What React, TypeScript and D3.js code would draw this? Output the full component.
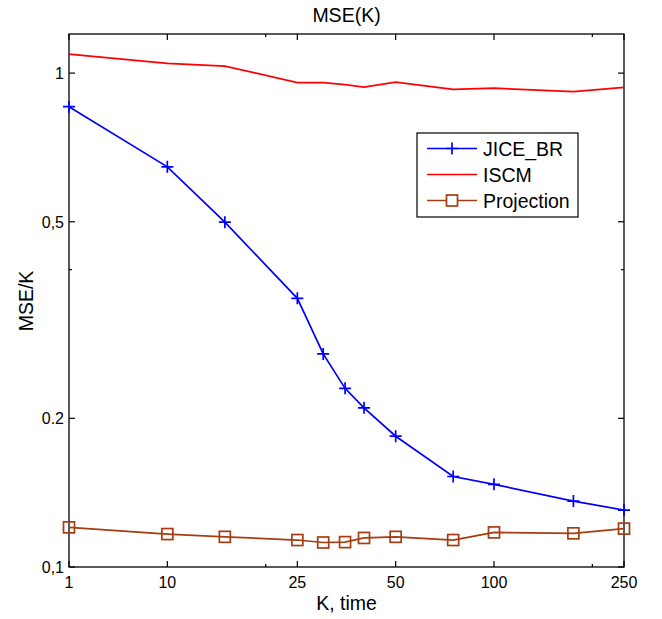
import React, { useEffect, useRef } from "react";
import * as d3 from "d3";

// K positions on the log axis (first one is labelled "1")
const kValues = [5, 10, 15, 25, 30, 35, 40, 50, 75, 100, 175, 250];
const jiceBR = [0.855, 0.646, 0.499, 0.35, 0.27, 0.23, 0.21, 0.184, 0.1525, 0.147, 0.136, 0.1304];
const iscm = [1.093, 1.046, 1.033, 0.957, 0.957, 0.948, 0.937, 0.959, 0.927, 0.932, 0.917, 0.936];
const projection = [0.1203, 0.1166, 0.1151, 0.1134, 0.1121, 0.1123, 0.1145, 0.1151, 0.1134, 0.1175, 0.117, 0.1196];

const xTicks = [5, 10, 25, 50, 100, 250];
const xTickLabels = ["1", "10", "25", "50", "100", "250"];
const xMinorTicks = [20, 200];
const yTicks = [0.1, 0.2, 0.5, 1];
const yTickLabels = ["0,1", "0.2", "0,5", "1"];
const yMinorTicks = [0.4];

const series = [
  { name: "JICE_BR", values: jiceBR, color: "#0000ff", marker: "plus" },
  { name: "ISCM", values: iscm, color: "#ff0000", marker: "none" },
  { name: "Projection", values: projection, color: "#a63c0f", marker: "square" },
];

const App = () => {
  const svgRef = useRef<SVGSVGElement>(null);

  useEffect(() => {
    const width = 662;
    const height = 619;
    const margin = { top: 34, right: 38, bottom: 52, left: 69 };
    const w = width - margin.left - margin.right;
    const h = height - margin.top - margin.bottom;

    const svg = d3
      .select(svgRef.current)
      .attr("width", width)
      .attr("height", height)
      .style("font-family", "'Liberation Sans', Arial, sans-serif")
      .style("background", "#fff");

    svg.selectAll("*").remove();

    const x = d3.scaleLog().domain([5, 250]).range([0, w]);
    const y = d3.scaleLog().domain([0.1, 1.2]).range([h, 0]);

    const g = svg.append("g").attr("transform", `translate(${margin.left},${margin.top})`);

    // box
    g.append("rect")
      .attr("width", w)
      .attr("height", h)
      .attr("fill", "none")
      .attr("stroke", "#000")
      .attr("stroke-width", 1.3);

    // ticks pointing inward on all four sides
    const tickGroup = g.append("g").attr("stroke", "#000").attr("stroke-width", 1.2);
    const addXTick = (v: number, len: number) => {
      tickGroup.append("line").attr("x1", x(v)).attr("x2", x(v)).attr("y1", h).attr("y2", h - len);
      tickGroup.append("line").attr("x1", x(v)).attr("x2", x(v)).attr("y1", 0).attr("y2", len);
    };
    const addYTick = (v: number, len: number) => {
      tickGroup.append("line").attr("y1", y(v)).attr("y2", y(v)).attr("x1", 0).attr("x2", len);
      tickGroup.append("line").attr("y1", y(v)).attr("y2", y(v)).attr("x1", w).attr("x2", w - len);
    };
    xTicks.forEach((v) => addXTick(v, 6));
    xMinorTicks.forEach((v) => addXTick(v, 3));
    yTicks.forEach((v) => addYTick(v, 6));
    yMinorTicks.forEach((v) => addYTick(v, 3));

    // tick labels
    g.selectAll("text.xtick")
      .data(xTicks)
      .join("text")
      .attr("class", "xtick")
      .attr("x", (d) => x(d))
      .attr("y", h + 21)
      .attr("text-anchor", "middle")
      .style("font-size", "16px")
      .text((d, i) => xTickLabels[i]);

    g.selectAll("text.ytick")
      .data(yTicks)
      .join("text")
      .attr("class", "ytick")
      .attr("x", -5)
      .attr("y", (d) => y(d) + 6)
      .attr("text-anchor", "end")
      .style("font-size", "16px")
      .text((d, i) => yTickLabels[i]);

    // lines and markers
    series.forEach((s) => {
      const pts = kValues.map((k, i) => [x(k), y(s.values[i])] as [number, number]);
      g.append("path")
        .attr("d", d3.line()(pts))
        .attr("fill", "none")
        .attr("stroke", s.color)
        .attr("stroke-width", 1.7);

      if (s.marker === "plus") {
        g.append("path")
          .attr("d", pts.map(([px, py]) => `M${px - 6},${py}H${px + 6}M${px},${py - 6}V${py + 6}`).join(""))
          .attr("stroke", s.color)
          .attr("stroke-width", 1.7)
          .attr("fill", "none");
      } else if (s.marker === "square") {
        g.selectAll(null)
          .data(pts)
          .join("rect")
          .attr("x", (d) => d[0] - 5.5)
          .attr("y", (d) => d[1] - 5.5)
          .attr("width", 11)
          .attr("height", 11)
          .attr("fill", "none")
          .attr("stroke", s.color)
          .attr("stroke-width", 1.7);
      }
    });

    // legend
    const legend = g.append("g").attr("transform", `translate(${417 - margin.left},${133 - margin.top})`);
    legend
      .append("rect")
      .attr("width", 161)
      .attr("height", 84)
      .attr("fill", "#fff")
      .attr("stroke", "#000")
      .attr("stroke-width", 1.2);

    series.forEach((s, i) => {
      const ly = 15.5 + i * 26;
      legend
        .append("line")
        .attr("x1", 10)
        .attr("x2", 60)
        .attr("y1", ly)
        .attr("y2", ly)
        .attr("stroke", s.color)
        .attr("stroke-width", 1.7);
      if (s.marker === "plus") {
        legend
          .append("path")
          .attr("d", `M29,${ly}H41M35,${ly - 6}V${ly + 6}`)
          .attr("stroke", s.color)
          .attr("stroke-width", 1.7);
      } else if (s.marker === "square") {
        legend
          .append("rect")
          .attr("x", 29.5)
          .attr("y", ly - 5.5)
          .attr("width", 11)
          .attr("height", 11)
          .attr("fill", "#fff")
          .attr("stroke", s.color)
          .attr("stroke-width", 1.7);
      }
      legend
        .append("text")
        .attr("x", 66)
        .attr("y", ly + 7)
        .style("font-size", "19.5px")
        .text(s.name);
    });

    // title and axis labels
    svg
      .append("text")
      .attr("x", margin.left + w / 2)
      .attr("y", 22)
      .attr("text-anchor", "middle")
      .style("font-size", "19.5px")
      .text("MSE(K)");

    svg
      .append("text")
      .attr("x", margin.left + w / 2)
      .attr("y", 610)
      .attr("text-anchor", "middle")
      .style("font-size", "19.5px")
      .text("K, time");

    svg
      .append("text")
      .attr("transform", `translate(${33},${301}) rotate(-90)`)
      .attr("text-anchor", "middle")
      .style("font-size", "19.5px")
      .text("MSE/K");
  }, []);

  return (
    <svg ref={svgRef} style={{ display: "block", position: "absolute", left: 0, top: 0 }}></svg>
  );
};

export default App;
